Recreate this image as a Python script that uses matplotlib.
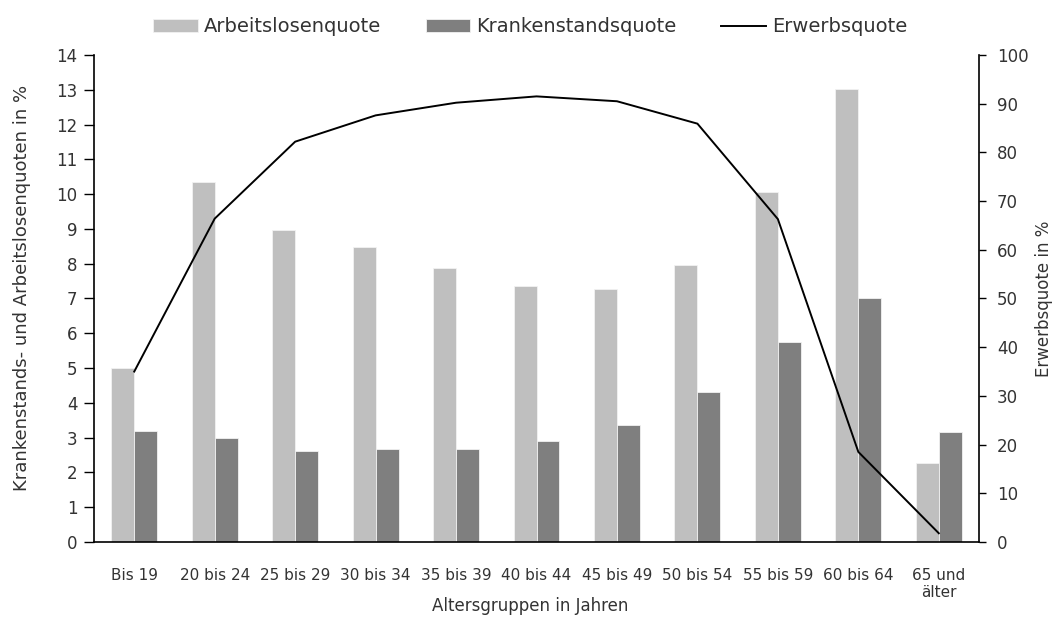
import numpy as np
import matplotlib.pyplot as plt

plt.rcParams['font.family'] = ['DejaVu Sans']

groups = ['Bis 19', '20 bis 24', '25 bis 29', '30 bis 34', '35 bis 39', '40 bis 44',
          '45 bis 49', '50 bis 54', '55 bis 59', '60 bis 64', '65 und\nälter']
arbeitslos = [5.0, 10.35, 8.97, 8.47, 7.88, 7.37, 7.28, 7.97, 10.06, 13.03, 2.27]
kranken = [3.2, 3.0, 2.61, 2.66, 2.66, 2.9, 3.36, 4.3, 5.75, 7.0, 3.15]
erwerb = [35.0, 66.4, 82.2, 87.6, 90.2, 91.5, 90.5, 85.9, 66.3, 18.5, 1.8]

x = np.arange(len(groups))
w = 0.285
txt = '#333333'

fig = plt.figure(figsize=(10.6, 6.22), dpi=100)
ax = fig.add_axes([0.0887, 0.1286, 0.8349, 0.783])
ax.bar(x - w / 2, arbeitslos, w, color='#bfbfbf', edgecolor='#f2f2f2', linewidth=0.6,
       label='Arbeitslosenquote', zorder=2)
ax.bar(x + w / 2, kranken, w, color='#7f7f7f', edgecolor='#f2f2f2', linewidth=0.6,
       label='Krankenstandsquote', zorder=2)
ax.set_xlim(-0.5, len(groups) - 0.5)
ax.set_ylim(0, 14)
ax.set_yticks(range(0, 15))
ax.set_xticks(x)
ax.set_xticklabels(groups, fontsize=11, color=txt, linespacing=1.1)
ax.tick_params(axis='x', length=0, pad=19)
ax.tick_params(axis='y', labelsize=12, labelcolor=txt, length=7, width=1, direction='out', pad=5)
for s in ['top', 'right']:
    ax.spines[s].set_visible(False)
for s in ['left', 'bottom']:
    ax.spines[s].set_linewidth(1.2)

ax2 = ax.twinx()
ax2.plot(x, erwerb, color='black', linewidth=1.4, label='Erwerbsquote')
ax2.set_ylim(0, 100)
ax2.set_yticks(range(0, 101, 10))
ax2.tick_params(axis='y', labelsize=12, labelcolor=txt, length=5, width=1, direction='out', pad=8)
for s in ['top', 'left', 'bottom']:
    ax2.spines[s].set_visible(False)
ax2.spines['right'].set_linewidth(1.2)

# axis titles placed in figure coords
fig.text(0.5, 0.026, 'Altersgruppen in Jahren', fontsize=12, color=txt, ha='center', va='center')
fig.text(0.021, 0.537, 'Krankenstands- und Arbeitslosenquoten in %', fontsize=13, color=txt,
         rotation=90, ha='center', va='center')
fig.text(0.985, 0.52, 'Erwerbsquote in %', fontsize=12, color=txt,
         rotation=90, ha='center', va='center')

h1, l1 = ax.get_legend_handles_labels()
h2, l2 = ax2.get_legend_handles_labels()
fig.legend(h1 + h2, l1 + l2, loc='center', bbox_to_anchor=(0.5, 0.957), ncol=3,
           frameon=False, fontsize=14, handlelength=2.3, handleheight=0.6,
           columnspacing=2.3, handletextpad=0.3, labelcolor=txt)

fig.savefig('out.png', dpi=100)
